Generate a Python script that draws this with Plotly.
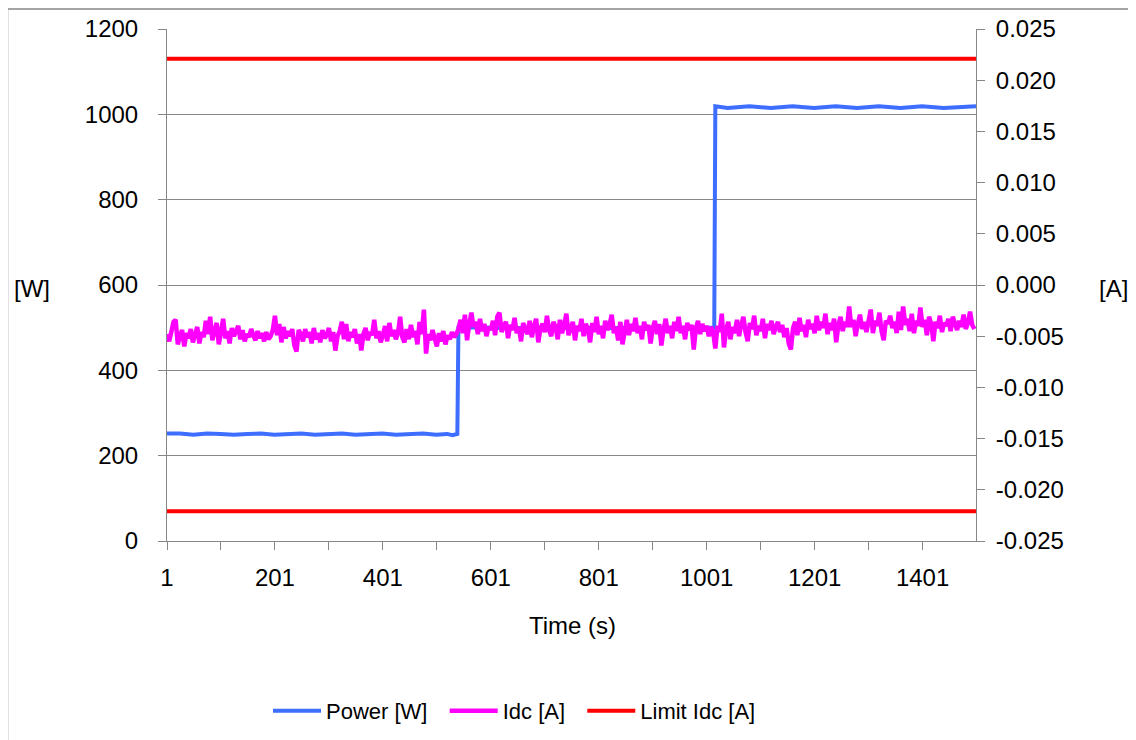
import plotly.graph_objects as go

# ---------------- data ----------------
POWER_T = [1, 25, 50, 75, 100, 125, 150, 175, 200, 225, 250, 275, 300, 325, 350, 375, 400,
           425, 450, 475, 500, 520, 530, 539,
           541, 575, 625, 675, 725, 775, 825, 875, 925, 975, 1015,
           1017, 1040, 1080, 1120, 1160, 1200, 1240, 1280, 1320, 1360, 1400, 1440, 1480, 1500]
POWER_W = [252, 252, 249, 252, 251, 249, 251, 252, 249, 251, 252, 249, 251, 252, 249, 251, 252,
           249, 251, 252, 249, 251, 248, 251,
           500, 501, 499, 500, 501, 500, 499, 500, 501, 500, 500,
           1019, 1015, 1019, 1015, 1019, 1015, 1019, 1015, 1019, 1015, 1019, 1015, 1019, 1019]

# Idc sampled every 4 s starting at t = 1
IDC_A = [
    # t 1 - 537
    -0.0048, -0.0055, -0.0046, -0.0036, -0.0034, -0.0058, -0.0050, -0.0044, -0.0060, -0.0047,
    -0.0052, -0.0043, -0.0056, -0.0049, -0.0041, -0.0057, -0.0046, -0.0051, -0.0035, -0.0048,
    -0.0031, -0.0054, -0.0044, -0.0037, -0.0058, -0.0047, -0.0033, -0.0052, -0.0045, -0.0057,
    -0.0042, -0.0050, -0.0046, -0.0040, -0.0053, -0.0044, -0.0055, -0.0048, -0.0051, -0.0043,
    -0.0049, -0.0054, -0.0045, -0.0052, -0.0047, -0.0055, -0.0046, -0.0053, -0.0050, -0.0044,
    -0.0030, -0.0049, -0.0038, -0.0056, -0.0041, -0.0052, -0.0045, -0.0050, -0.0043, -0.0059,
    -0.0065, -0.0044, -0.0048, -0.0055, -0.0043, -0.0051, -0.0046, -0.0057, -0.0042, -0.0053,
    -0.0047, -0.0056, -0.0044, -0.0052, -0.0049, -0.0042, -0.0055, -0.0046, -0.0064, -0.0050,
    -0.0045, -0.0036, -0.0053, -0.0038, -0.0055, -0.0046, -0.0051, -0.0043, -0.0057, -0.0048,
    -0.0064, -0.0048, -0.0042, -0.0054, -0.0046, -0.0049, -0.0034, -0.0052, -0.0045, -0.0056,
    -0.0049, -0.0040, -0.0055, -0.0037, -0.0050, -0.0044, -0.0053, -0.0047, -0.0031, -0.0051,
    -0.0056, -0.0043, -0.0053, -0.0039, -0.0051, -0.0045, -0.0058, -0.0036, -0.0048, -0.0024,
    -0.0067, -0.0048, -0.0054, -0.0044, -0.0052, -0.0060, -0.0047, -0.0055, -0.0045, -0.0058,
    -0.0049, -0.0053, -0.0046, -0.0051, -0.0048,
    # t 541 - 1013
    -0.0043, -0.0034, -0.0047, -0.0029, -0.0054, -0.0038, -0.0027, -0.0041, -0.0036, -0.0048,
    -0.0033, -0.0045, -0.0038, -0.0050, -0.0041, -0.0044, -0.0035, -0.0049, -0.0031, -0.0027,
    -0.0046, -0.0040, -0.0036, -0.0052, -0.0039, -0.0044, -0.0032, -0.0047, -0.0041, -0.0055,
    -0.0037, -0.0043, -0.0048, -0.0035, -0.0051, -0.0040, -0.0033, -0.0056, -0.0042, -0.0038,
    -0.0046, -0.0030, -0.0044, -0.0050, -0.0036, -0.0041, -0.0053, -0.0034, -0.0047, -0.0039,
    -0.0028, -0.0049, -0.0042, -0.0036, -0.0054, -0.0040, -0.0045, -0.0033, -0.0050, -0.0038,
    -0.0043, -0.0056, -0.0037, -0.0046, -0.0031, -0.0048, -0.0040, -0.0052, -0.0035, -0.0044,
    -0.0039, -0.0029, -0.0047, -0.0041, -0.0054, -0.0036, -0.0058, -0.0043, -0.0034, -0.0049,
    -0.0038, -0.0045, -0.0032, -0.0047, -0.0040, -0.0053, -0.0036, -0.0044, -0.0039, -0.0057,
    -0.0042, -0.0035, -0.0048, -0.0038, -0.0059, -0.0044, -0.0033, -0.0047, -0.0040, -0.0052,
    -0.0036, -0.0045, -0.0031, -0.0047, -0.0040, -0.0053, -0.0037, -0.0044, -0.0039, -0.0063,
    -0.0042, -0.0035, -0.0048, -0.0038, -0.0045, -0.0040, -0.0050, -0.0041, -0.0046,
    # t 1017 - 1497
    -0.0062, -0.0040, -0.0046, -0.0028, -0.0061, -0.0044, -0.0036, -0.0053, -0.0041, -0.0047,
    -0.0034, -0.0050, -0.0039, -0.0031, -0.0046, -0.0055, -0.0037, -0.0043, -0.0030, -0.0049,
    -0.0040, -0.0045, -0.0033, -0.0052, -0.0038, -0.0044, -0.0035, -0.0048, -0.0041, -0.0036,
    -0.0046, -0.0039, -0.0051, -0.0042, -0.0057, -0.0063, -0.0042, -0.0036, -0.0049, -0.0032,
    -0.0045, -0.0039, -0.0051, -0.0034, -0.0043, -0.0038, -0.0047, -0.0030, -0.0044, -0.0036,
    -0.0042, -0.0028, -0.0048, -0.0037, -0.0044, -0.0033, -0.0056, -0.0039, -0.0031, -0.0045,
    -0.0036, -0.0041, -0.0021, -0.0041, -0.0034, -0.0050, -0.0038, -0.0029, -0.0043, -0.0036,
    -0.0046, -0.0032, -0.0024, -0.0047, -0.0035, -0.0040, -0.0027, -0.0045, -0.0054, -0.0035,
    -0.0038, -0.0030, -0.0042, -0.0036, -0.0047, -0.0026, -0.0044, -0.0021, -0.0039, -0.0033,
    -0.0045, -0.0028, -0.0047, -0.0035, -0.0040, -0.0022, -0.0041, -0.0034, -0.0049, -0.0031,
    -0.0038, -0.0055, -0.0036, -0.0042, -0.0030, -0.0046, -0.0037, -0.0040, -0.0033, -0.0045,
    -0.0031, -0.0038, -0.0044, -0.0035, -0.0041, -0.0029, -0.0043, -0.0037, -0.0026, -0.0039,
    -0.0043,
]
IDC_T = [1 + 4 * i for i in range(len(IDC_A))]

LIMIT_T = [1, 1500]
LIMIT_UPPER = 0.0221
LIMIT_LOWER = -0.0221

X_RANGE = [1, 1500]
Y1_RANGE = [0, 1200]
Y2_RANGE = [-0.025, 0.025]
Y2_TICKS = [-0.025, -0.020, -0.015, -0.010, -0.005, 0.000, 0.005, 0.010, 0.015, 0.020, 0.025]
Y2_LABELS = ["-0.025", "-0.020", "-0.015", "-0.010", "-0.005", "0.000",
             "0.005", "0.010", "0.015", "0.020", "0.025"]

# ---------------- figure ----------------
FONT = "Liberation Sans, Arial, sans-serif"
GRID = "#878787"
NB = "\u00a0"

fig = go.Figure()
fig.add_trace(go.Scatter(x=POWER_T, y=POWER_W, mode="lines", name="Power [W]" + NB * 2,
                         line=dict(color="#3D6EFF", width=4)))
fig.add_trace(go.Scatter(x=IDC_T, y=IDC_A, mode="lines", name="Idc [A]" + NB * 2, yaxis="y2",
                         line=dict(color="#FF00FF", width=4.5)))
fig.add_trace(go.Scatter(x=LIMIT_T + [None] + LIMIT_T,
                         y=[LIMIT_UPPER] * 2 + [None] + [LIMIT_LOWER] * 2,
                         mode="lines", name="Limit Idc [A]", yaxis="y2",
                         line=dict(color="#FF0000", width=4)))

OFF = 8  # page body margin
W, H = 1136 - OFF, 740 - OFF
L, R, T, B = 167 - OFF, 976 - OFF, 29 - OFF, 541 - OFF

def px(xs):  # screen x -> paper
    return (xs - OFF - L) / (R - L)

def py(ys):  # screen y -> paper
    return (B - (ys - OFF)) / (B - T)

fig.update_layout(
    width=W, height=H,
    margin=dict(l=L, r=W - R, t=T, b=H - B, pad=0, autoexpand=False),
    paper_bgcolor="white", plot_bgcolor="white",
    font=dict(family=FONT, size=24, color="black"),
    showlegend=True,
    legend=dict(orientation="h", xref="container", yref="container",
                x=(268 - OFF) / W, xanchor="left",
                y=(H - (711 - OFF)) / H, yanchor="middle",
                font=dict(size=22), bgcolor="rgba(0,0,0,0)", itemwidth=48,
                tracegroupgap=0),
    xaxis=dict(range=X_RANGE, tickmode="linear", tick0=1, dtick=200,
               ticks="outside", ticklen=8, tickcolor=GRID, showline=True, linecolor=GRID,
               linewidth=1, showgrid=False, zeroline=False, ticklabelstandoff=7,
               minor=dict(tickmode="linear", tick0=1, dtick=100, ticks="outside",
                          ticklen=8, tickcolor=GRID, showgrid=False)),
    yaxis=dict(range=Y1_RANGE, tickmode="linear", tick0=0, dtick=200,
               ticks="outside", ticklen=8, tickcolor=GRID, showline=True, linecolor=GRID,
               linewidth=1, showgrid=True, gridcolor=GRID, gridwidth=1, zeroline=False,
               ticklabelstandoff=15),
    yaxis2=dict(range=Y2_RANGE, overlaying="y", side="right", tickmode="array",
                tickvals=Y2_TICKS, ticktext=Y2_LABELS,
                ticks="outside", ticklen=8, tickcolor=GRID, showline=True, linecolor=GRID,
                linewidth=1, showgrid=False, zeroline=False, ticklabelstandoff=6),
    annotations=[
        dict(text="[W]", x=px(32), y=py(288), xref="paper", yref="paper",
             showarrow=False, xanchor="center", yanchor="middle"),
        dict(text="[A]", x=px(1113), y=py(288), xref="paper", yref="paper",
             showarrow=False, xanchor="center", yanchor="middle"),
        dict(text="Time (s)", x=px(572), y=py(625), xref="paper", yref="paper",
             showarrow=False, xanchor="center", yanchor="middle"),
    ],
    shapes=[
        dict(type="rect", xref="paper", yref="paper", x0=px(7.5), x1=px(1132.5),
             y0=py(760), y1=py(9), line=dict(color="#878787", width=1.5), layer="below"),
    ],
)

fig.write_html("out.html")
